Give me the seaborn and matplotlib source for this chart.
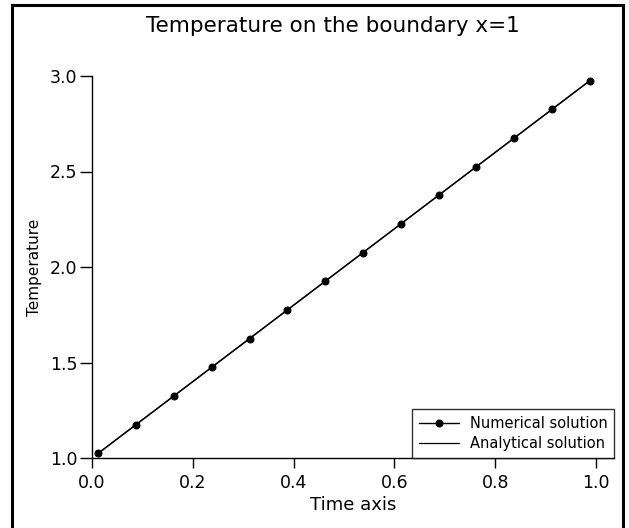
import numpy as np
import matplotlib
matplotlib.use('Agg')
import matplotlib.pyplot as plt
import seaborn as sns
from matplotlib.lines import Line2D

sns.set_style("ticks")
plt.rcParams['font.family'] = ['DejaVu Sans']

# numerical solution points
time_num = [0.0125, 0.0875, 0.1625, 0.2375, 0.3125, 0.3875, 0.4625,
            0.5375, 0.6125, 0.6875, 0.7625, 0.8375, 0.9125, 0.9875]
temp_num = [1.025, 1.175, 1.325, 1.475, 1.625, 1.775, 1.925,
            2.075, 2.225, 2.375, 2.525, 2.675, 2.825, 2.975]

# analytical solution (straight line)
time_ana = [0.0125, 0.9875]
temp_ana = [1.025, 2.975]

x_ticks = [0.0, 0.2, 0.4, 0.6, 0.8, 1.0]
y_ticks = [1.0, 1.5, 2.0, 2.5, 3.0]

W, H = 629, 528
fig = plt.figure(figsize=(W / 100, H / 100), dpi=100)
ax = fig.add_axes([92 / W, 1 - 458 / H, (614 - 92) / W, (458 - 76) / H])

sns.lineplot(x=time_num, y=temp_num, ax=ax, color='black', lw=1.0,
             marker='o', markersize=5, markeredgecolor='black',
             label='Numerical solution')
sns.lineplot(x=time_ana, y=temp_ana, ax=ax, color='black', lw=0.9,
             label='Analytical solution')

ax.set_xlim(0.0, 1.0357)
ax.set_ylim(1.0, 3.0)
ax.set_xticks(x_ticks)
ax.set_yticks(y_ticks)
ax.set_xticklabels([f'{v:.1f}' for v in x_ticks])
ax.set_yticklabels([f'{v:.1f}' for v in y_ticks])
ax.tick_params(axis='both', direction='out', width=1.0, color='black',
               labelsize=12.5, labelcolor='black')
ax.tick_params(axis='y', length=8.5, pad=2)
ax.tick_params(axis='x', length=7.5, pad=4)

for s in ['top', 'right']:
    ax.spines[s].set_visible(False)
for s in ['left', 'bottom']:
    ax.spines[s].set_linewidth(1.0)
    ax.spines[s].set_color('black')
ax.spines['left'].set_bounds(1.0, 3.0)

ax.set_xlabel('Time axis', fontsize=13, color='black', labelpad=3)
ax.set_ylabel('Temperature', fontsize=11, color='black', labelpad=6)

fig.text(333 / W, 1 - 26 / H, 'Temperature on the boundary x=1',
         ha='center', va='center', fontsize=15.5, color='black')

leg = ax.legend(loc='lower right', fontsize=10.5, frameon=True, fancybox=False,
                handlelength=2.8, borderaxespad=0.0, borderpad=0.45,
                labelspacing=0.4, handletextpad=0.7, labelcolor='black')
leg.get_frame().set_edgecolor('black')
leg.get_frame().set_linewidth(1.0)

# outer frame around the figure
bx0, bx1, by0 = 12 / W, 623 / W, 1 - 5 / H
for xs, ys in [([bx0, bx0], [-0.01, by0]), ([bx0, bx1], [by0, by0]),
               ([bx1, bx1], [by0, -0.01])]:
    fig.add_artist(Line2D(xs, ys, transform=fig.transFigure, color='black',
                          lw=2.2, solid_capstyle='projecting'))

fig.savefig('out.png', dpi=100)
